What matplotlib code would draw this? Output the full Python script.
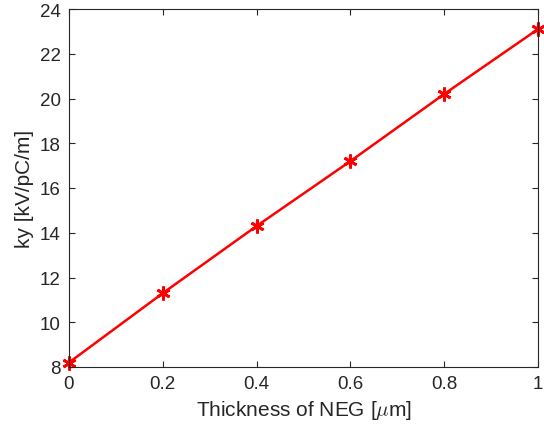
import matplotlib.pyplot as plt

plt.rcParams['font.family'] = ['Liberation Sans', 'DejaVu Sans']
plt.rcParams['mathtext.fontset'] = 'cm'

thickness = [0, 0.2, 0.4, 0.6, 0.8, 1.0]
ky = [8.2, 11.3, 14.3, 17.2, 20.2, 23.1]

fig = plt.figure(figsize=(5.44, 4.35), dpi=100)
ax = fig.add_axes([69 / 544, 1 - 368 / 435, (538 - 69) / 544, (368 - 10) / 435])

ax.plot(thickness, ky, '-', color='red', lw=1.8, marker=(6, 2, 0), ms=10, mew=2,
        clip_on=False)

ax.set_xlim(0, 1)
ax.set_ylim(8, 24)
ax.set_xticks([0, 0.2, 0.4, 0.6, 0.8, 1])
ax.set_xticklabels(['0', '0.2', '0.4', '0.6', '0.8', '1'])
ax.set_yticks(range(8, 25, 2))

for s in ax.spines.values():
    s.set_color('#262626')
    s.set_linewidth(0.8)
ax.tick_params(direction='in', length=4, width=0.8, colors='#262626',
               labelsize=13.5, top=True, right=True, pad=6)
for lbl in ax.get_xticklabels() + ax.get_yticklabels():
    lbl.set_color('#262626')

ax.set_xlabel(r'Thickness of NEG [$\mu$m]', fontsize=15, color='#262626', labelpad=4)
ax.set_ylabel('ky [kV/pC/m]', fontsize=15, color='#262626', labelpad=4)

fig.savefig('out.png', dpi=100)
